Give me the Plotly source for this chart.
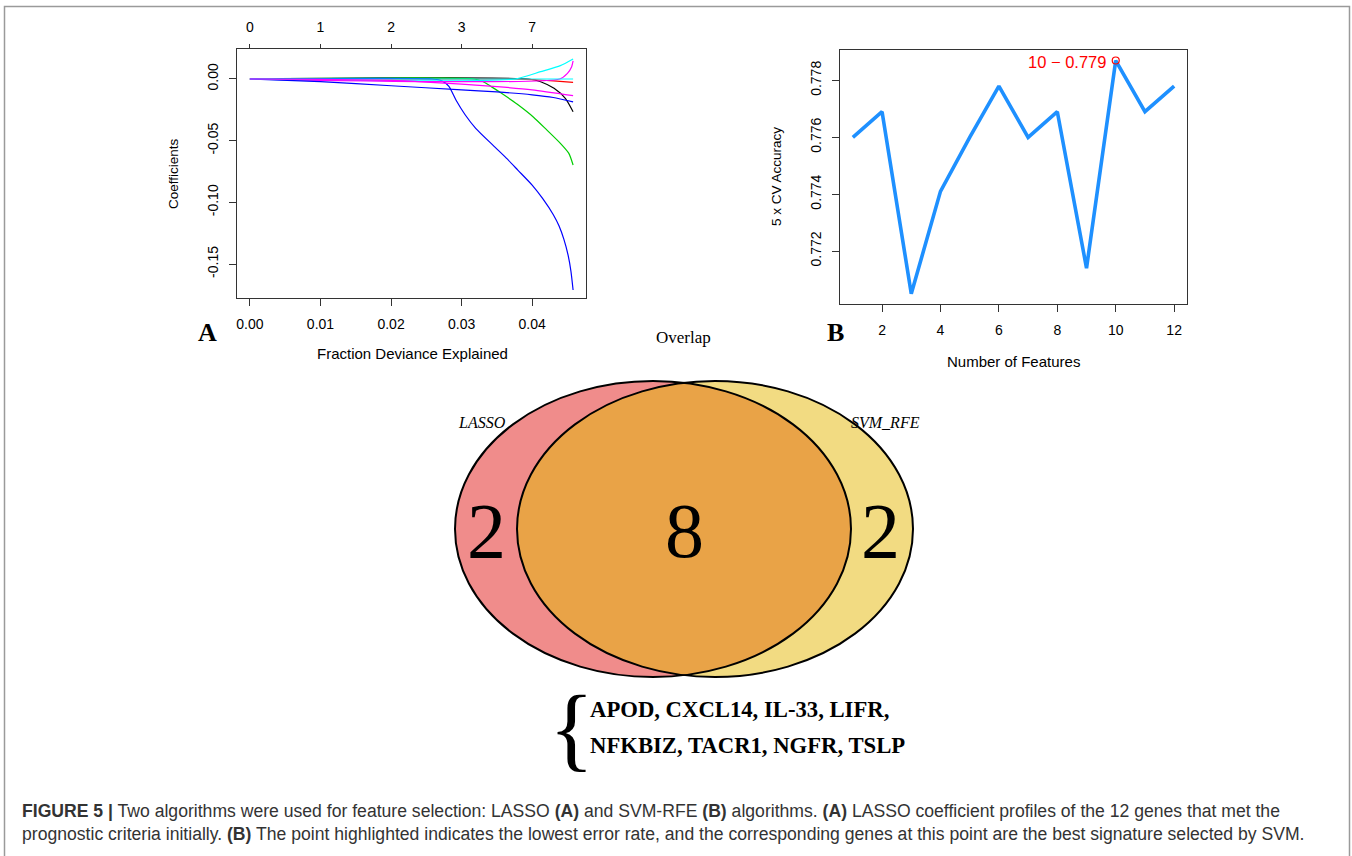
import numpy as np
import plotly.graph_objects as go

W, H = 1352, 856
def px(x): return x / W
def py(y): return 1 - y / H

# ---------------- Panel A data: LASSO coefficient paths ----------------
black_x = [0, 0.0395, 0.0412, 0.0431, 0.0447, 0.0458]
black_y = [0, 0, -0.0022, -0.0076, -0.0157, -0.0265]
red_x = [0, 0.0365, 0.040, 0.043, 0.0458]
red_y = [0, 0, -0.0006, -0.0015, -0.0027]
green_x = [0, 0.0318, 0.0330, 0.0342, 0.0355, 0.0379, 0.0402, 0.0421, 0.0440, 0.0452, 0.0458]
green_y = [0, 0, -0.0020, -0.0062, -0.0110, -0.0205, -0.0310, -0.0415, -0.0522, -0.0603, -0.0697]
blue2_x = [0, 0.0258, 0.0272, 0.0282, 0.0292, 0.0305, 0.032, 0.0345, 0.0365, 0.038, 0.040, 0.0415,
           0.043, 0.0438, 0.0445, 0.0451, 0.0455, 0.0458]
blue2_y = [0, 0, -0.0015, -0.006, -0.017, -0.029, -0.040, -0.054, -0.065, -0.074, -0.086, -0.097,
           -0.110, -0.119, -0.130, -0.143, -0.156, -0.171]
cyan_x = [0, 0.0376, 0.0412, 0.0440, 0.0458]
cyan_y = [0, 0, 0.0059, 0.0108, 0.0162]
mag2_x = [0, 0.0439, 0.0450, 0.0456, 0.0458]
mag2_y = [0, 0, 0.0046, 0.0100, 0.0146]
blue1_x = [0, 0.01, 0.02, 0.03, 0.035, 0.04, 0.043, 0.0458]
blue1_y = [0, -0.0022, -0.0055, -0.0088, -0.0105, -0.0128, -0.0150, -0.0186]
cyan0_x = [0, 0.0458]
cyan0_y = [0, 0]
mag1_x = [0, 0.01, 0.02, 0.025, 0.03, 0.035, 0.04, 0.0458]
mag1_y = [0, -0.0003, -0.0012, -0.0025, -0.0042, -0.0062, -0.0088, -0.0135]

a_xticks = [0, 0.01, 0.02, 0.03, 0.04]
a_xticklabels = ["0.00", "0.01", "0.02", "0.03", "0.04"]
a_topticklabels = ["0", "1", "2", "3", "7"]
a_yticks = [0, -0.05, -0.10, -0.15]
a_yticklabels = ["0.00", "-0.05", "-0.10", "-0.15"]

# ---------------- Panel B data: SVM-RFE accuracy ----------------
n_features = [1, 2, 3, 4, 5, 6, 7, 8, 9, 10, 11, 12]
cv_accuracy = [0.7760, 0.7769, 0.7705, 0.7741, 0.7760, 0.7778, 0.7760, 0.7769, 0.7714, 0.7787, 0.7769, 0.7778]
best_n = 10
best_acc = 0.7787
b_xticks = [2, 4, 6, 8, 10, 12]
b_yticks = [0.772, 0.774, 0.776, 0.778]
b_yticklabels = ["0.772", "0.774", "0.776", "0.778"]

# ---------------- Venn data ----------------
venn_labels = ["LASSO", "SVM_RFE"]
venn_counts = [2, 8, 2]
genes_line1 = "APOD, CXCL14, IL-33, LIFR,"
genes_line2 = "NFKBIZ, TACR1, NGFR, TSLP"

caption1_bold = "FIGURE 5 |"
caption1 = " Two algorithms were used for feature selection: LASSO <b>(A)</b> and SVM-RFE <b>(B)</b> algorithms. <b>(A)</b> LASSO coefficient profiles of the 12 genes that met the"
caption2 = "prognostic criteria initially. <b>(B)</b> The point highlighted indicates the lowest error rate, and the corresponding genes at this point are the best signature selected by SVM."

SANS = "Liberation Sans, Arial, sans-serif"
SERIF = "Liberation Serif, Times New Roman, serif"

fig = go.Figure()

series = [
    (black_x, black_y, "black"), (red_x, red_y, "red"), (green_x, green_y, "#00CD00"),
    (blue2_x, blue2_y, "blue"), (cyan_x, cyan_y, "cyan"), (mag2_x, mag2_y, "magenta"),
    (blue1_x, blue1_y, "blue"), (cyan0_x, cyan0_y, "cyan"), (mag1_x, mag1_y, "magenta"),
]
for xs, ys, c in series:
    fig.add_trace(go.Scatter(x=xs, y=ys, mode="lines", line=dict(color=c, width=1.2, shape="spline", smoothing=0.6),
                             xaxis="x", yaxis="y", showlegend=False, hoverinfo="skip"))

fig.add_trace(go.Scatter(x=n_features, y=cv_accuracy, mode="lines", line=dict(color="#1E90FF", width=3.6),
                         xaxis="x3", yaxis="y3", showlegend=False))
fig.add_trace(go.Scatter(x=[best_n], y=[best_acc], mode="markers",
                         marker=dict(symbol="circle-open", size=7, color="red", line=dict(width=1.2)),
                         xaxis="x3", yaxis="y3", showlegend=False))

tickfont = dict(family=SANS, size=14, color="black")
axbase = dict(showgrid=False, zeroline=False, showline=True, linecolor="#333", linewidth=1.3,
              mirror=True, ticks="outside", ticklen=7, tickcolor="#333", tickwidth=1.1, tickfont=tickfont)

fig.update_layout(
    width=W, height=H, margin=dict(l=0, r=0, t=0, b=0),
    paper_bgcolor="white", plot_bgcolor="white", showlegend=False,
    xaxis=dict(axbase, domain=[px(237), px(586)], range=[-0.00183, 0.04763], anchor="y",
               tickvals=a_xticks, ticktext=a_xticklabels, ticklabelstandoff=6),
    xaxis2=dict(domain=[px(237), px(586)], range=[-0.00183, 0.04763], anchor="y", overlaying="x", side="top",
                showgrid=False, zeroline=False, showline=False, ticks="outside", ticklen=4,
                tickcolor="#333", tickvals=a_xticks, ticktext=a_topticklabels, tickfont=tickfont,
                ticklabelstandoff=6),
    yaxis=dict(axbase, domain=[py(298), py(49)], range=[-0.1775, 0.0243], anchor="x",
               tickvals=a_yticks, ticktext=a_yticklabels, tickangle=-90, ticklabelstandoff=5),
    xaxis3=dict(axbase, domain=[px(840), px(1187)], range=[0.56, 12.44], anchor="y3",
                tickvals=b_xticks, ticktext=[str(v) for v in b_xticks], ticklabelstandoff=6),
    yaxis3=dict(axbase, domain=[py(304), py(50)], range=[0.77014, 0.77907], anchor="x3",
                tickvals=b_yticks, ticktext=b_yticklabels, tickangle=-90, ticklabelstandoff=5),
)
# invisible trace to activate the top (df) axis
fig.add_trace(go.Scatter(x=[0], y=[0], mode="markers", marker=dict(opacity=0), xaxis="x2", yaxis="y",
                         showlegend=False, hoverinfo="skip"))

shapes = []
# outer frame
shapes.append(dict(type="path", xref="paper", yref="paper",
                   path=f"M {px(4.5)},{py(860)} L {px(4.5)},{py(6.5)} L {px(1349.5)},{py(6.5)} L {px(1349.5)},{py(860)}",
                   line=dict(color="#9a9a9a", width=1.5)))

# Venn ellipses
cy, a, b = 529, 198, 148
cl, cr = 653, 715
shapes.append(dict(type="circle", xref="paper", yref="paper", x0=px(cl - a), x1=px(cl + a), y0=py(cy + b), y1=py(cy - b),
                   fillcolor="#F08C8B", line=dict(width=0)))
shapes.append(dict(type="circle", xref="paper", yref="paper", x0=px(cr - a), x1=px(cr + a), y0=py(cy + b), y1=py(cy - b),
                   fillcolor="#F2DB82", line=dict(width=0)))
# lens (intersection)
xm = (cl + cr) / 2
tmax = np.arccos((xm - cl) / a)
t1 = np.linspace(tmax, -tmax, 120)
arc1 = [(cl + a * np.cos(t), cy - b * np.sin(t)) for t in t1]
t2 = np.linspace(np.pi + tmax, np.pi - tmax, 120)
arc2 = [(cr + a * np.cos(t), cy - b * np.sin(t)) for t in t2]
pts = arc1 + arc2
path = "M " + " L ".join(f"{px(x):.5f},{py(y):.5f}" for x, y in pts) + " Z"
shapes.append(dict(type="path", xref="paper", yref="paper", path=path, fillcolor="#E9A347", line=dict(width=0)))
for c in (cl, cr):
    shapes.append(dict(type="circle", xref="paper", yref="paper", x0=px(c - a), x1=px(c + a), y0=py(cy + b), y1=py(cy - b),
                       line=dict(color="black", width=2)))
fig.update_layout(shapes=shapes)

ann = []
def A(x, y, text, size, family=SANS, color="black", xanchor="center", angle=0, yanchor="middle"):
    ann.append(dict(x=px(x), y=py(y), xref="paper", yref="paper", text=text, showarrow=False,
                    xanchor=xanchor, yanchor=yanchor, textangle=angle,
                    font=dict(family=family, size=size, color=color)))

# panel A titles
A(173, 173, "Coefficients", 13.5, angle=-90)
A(412, 354, "Fraction Deviance Explained", 15)
A(207, 332, "<b>A</b>", 26, family=SERIF)
# panel B titles
A(777, 177, "5 x CV Accuracy", 13.5, angle=-90)
A(1013, 361, "Number of Features", 15)
A(835, 333, "<b>B</b>", 26, family=SERIF)
ann.append(dict(x=best_n, y=best_acc, xref="x3", yref="y3", text=f"{best_n} \u2212 {best_acc:.3f}",
                showarrow=False, xanchor="right", yanchor="middle", xshift=-8, yshift=-1,
                font=dict(family=SANS, size=16.5, color="red")))
# Venn texts
A(683, 337, "Overlap", 17, family=SERIF)
A(482, 422, "<i>" + venn_labels[0] + "</i>", 16, family=SERIF)
A(885, 422, "<i>" + venn_labels[1] + "</i>", 16, family=SERIF)
A(486, 530, str(venn_counts[0]), 78, family=SERIF)
A(684, 530, str(venn_counts[1]), 78, family=SERIF)
A(880, 530, str(venn_counts[2]), 78, family=SERIF)
A(571, 728, "{", 94, family=SERIF)
A(588, 709, "<b>" + genes_line1 + "</b>", 22.7, family=SERIF, xanchor="left")
A(588, 745, "<b>" + genes_line2 + "</b>", 22.7, family=SERIF, xanchor="left")
# caption
A(20, 811, "<b>" + caption1_bold + "</b>" + caption1, 17.6, color="#333", xanchor="left")
A(20, 834, caption2, 17.6, color="#333", xanchor="left")
fig.update_layout(annotations=ann)

fig.write_html("out.html", config={"displayModeBar": False},
               post_script="document.body.style.margin='0px';document.body.style.overflow='hidden';")
